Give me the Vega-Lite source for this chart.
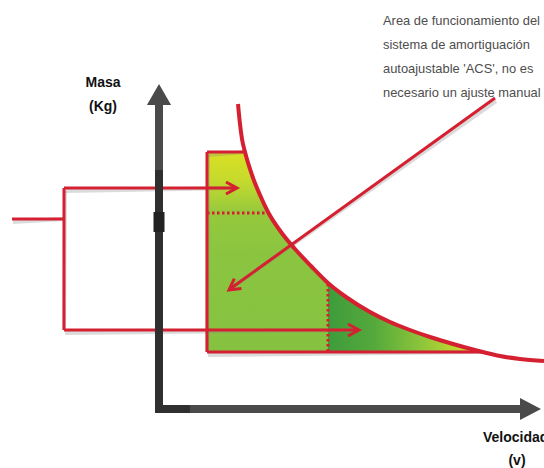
{
  "$schema": "https://vega.github.io/schema/vega-lite/v6.json",
  "width": 544,
  "height": 468,
  "padding": 0,
  "autosize": {"type": "none"},
  "background": "white",
  "config": {"view": {"stroke": null}},
  "datasets": {
    "greenArea": [
      {"v": 207, "m": 152}, {"v": 245, "m": 152}, {"v": 252, "m": 175}, {"v": 260, "m": 195},
      {"v": 268, "m": 212}, {"v": 281, "m": 232}, {"v": 295, "m": 249}, {"v": 311, "m": 266},
      {"v": 328, "m": 283}, {"v": 346, "m": 297}, {"v": 370, "m": 312}, {"v": 390, "m": 322},
      {"v": 410, "m": 330}, {"v": 430, "m": 337}, {"v": 453, "m": 344}, {"v": 475, "m": 350}, {"v": 482, "m": 352}
    ],
    "darkArea": [
      {"v": 328, "m": 283.5}, {"v": 346, "m": 297}, {"v": 370, "m": 312}, {"v": 390, "m": 322},
      {"v": 410, "m": 330}, {"v": 430, "m": 337}, {"v": 453, "m": 344}, {"v": 475, "m": 350}, {"v": 482, "m": 352}
    ],
    "curve": [
      {"v": 238, "m": 104}, {"v": 240, "m": 124}, {"v": 242, "m": 139}, {"v": 245, "m": 152},
      {"v": 252, "m": 175}, {"v": 260, "m": 195}, {"v": 268, "m": 212}, {"v": 281, "m": 232},
      {"v": 295, "m": 249}, {"v": 311, "m": 266}, {"v": 328, "m": 283}, {"v": 346, "m": 297},
      {"v": 370, "m": 312}, {"v": 390, "m": 322}, {"v": 410, "m": 330}, {"v": 430, "m": 337},
      {"v": 453, "m": 344}, {"v": 475, "m": 350}, {"v": 500, "m": 356}, {"v": 520, "m": 359},
      {"v": 544, "m": 361}
    ],
    "redLines": [
      {"v": 207, "m": 152, "v2": 207, "m2": 352},
      {"v": 207, "m": 152, "v2": 245, "m2": 152},
      {"v": 207, "m": 352, "v2": 482, "m2": 352},
      {"v": 12, "m": 219, "v2": 64, "m2": 219},
      {"v": 64, "m": 188, "v2": 64, "m2": 330},
      {"v": 64, "m": 188, "v2": 236, "m2": 188},
      {"v": 64, "m": 330, "v2": 358, "m2": 330},
      {"v": 495, "m": 98, "v2": 230, "m2": 289}
    ],
    "dotted": [
      {"v": 207, "m": 213, "v2": 268, "m2": 213},
      {"v": 328, "m": 284, "v2": 328, "m2": 352}
    ],
    "tipsRight": [{"v": 237, "m": 188}, {"v": 359, "m": 330}],
    "tipDiag": [{"v": 229, "m": 290}],
    "labels": [
      {"v": 103, "m": 83, "t": "Masa"},
      {"v": 103, "m": 107, "t": "(Kg)"},
      {"v": 517, "m": 461, "t": "(v)"}
    ],
    "vel": [{"v": 483, "m": 438, "t": "Velocidad"}],
    "note": [
      {"v": 383, "m": 21, "t": "Area de funcionamiento del"},
      {"v": 383, "m": 45, "t": "sistema de amortiguación"},
      {"v": 383, "m": 69, "t": "autoajustable 'ACS', no es"},
      {"v": 383, "m": 93, "t": "necesario un ajuste manual"}
    ]
  },
  "encoding": {
    "x": {"field": "v", "type": "quantitative", "scale": {"domain": [0, 544], "nice": false, "zero": false}, "axis": null},
    "y": {"field": "m", "type": "quantitative", "scale": {"domain": [0, 468], "nice": false, "zero": false, "reverse": true}, "axis": null}
  },
  "layer": [
    {
      "data": {"name": "greenArea"},
      "mark": {
        "type": "area", "interpolate": "monotone",
        "color": {"gradient": "linear", "x1": 0, "y1": 0, "x2": 0, "y2": 1,
          "stops": [
            {"offset": 0, "color": "#d9e024"},
            {"offset": 0.14, "color": "#c6da2c"},
            {"offset": 0.3, "color": "#96c93c"},
            {"offset": 0.5, "color": "#8bc540"},
            {"offset": 1, "color": "#86c241"}
          ]}
      },
      "encoding": {"y2": {"datum": 352}}
    },
    {
      "data": {"name": "darkArea"},
      "mark": {
        "type": "area", "interpolate": "monotone",
        "color": {"gradient": "linear", "x1": 0, "y1": 0, "x2": 1, "y2": 0,
          "stops": [
            {"offset": 0, "color": "#3e9c3b"},
            {"offset": 0.3, "color": "#55a93c"},
            {"offset": 0.6, "color": "#8cc43a"},
            {"offset": 0.85, "color": "#c2d82e"},
            {"offset": 1, "color": "#d6de28"}
          ]}
      },
      "encoding": {"y2": {"datum": 352}}
    },
    {
      "data": {"name": "redLines"},
      "mark": {"type": "rule", "color": "#888888", "opacity": 0.3, "strokeWidth": 4, "yOffset": 3, "xOffset": 1},
      "encoding": {"x2": {"field": "v2"}, "y2": {"field": "m2"}}
    },
    {
      "data": {"name": "redLines"},
      "mark": {"type": "rule", "color": "#d42030", "strokeWidth": 3},
      "encoding": {"x2": {"field": "v2"}, "y2": {"field": "m2"}}
    },
    {
      "data": {"name": "dotted"},
      "mark": {"type": "rule", "color": "#d42030", "strokeWidth": 3, "strokeDash": [2.5, 2.5]},
      "encoding": {"x2": {"field": "v2"}, "y2": {"field": "m2"}}
    },
    {
      "data": {"name": "curve"},
      "mark": {"type": "line", "interpolate": "monotone", "color": "#d42030", "strokeWidth": 4},
      "encoding": {}
    },
    {
      "data": {"name": "tipsRight"},
      "mark": {"type": "point", "shape": "M-1,-0.55L0,0L-1,0.55", "filled": false, "size": 484, "color": "#d42030", "strokeWidth": 3, "opacity": 1},
      "encoding": {}
    },
    {
      "data": {"name": "tipDiag"},
      "mark": {"type": "point", "shape": "M-1,-0.55L0,0L-1,0.55", "filled": false, "size": 484, "angle": 144, "color": "#d42030", "strokeWidth": 3, "opacity": 1},
      "encoding": {}
    },
    {
      "data": {"values": [{"v": 159, "m": 104, "m2": 172}]},
      "mark": {"type": "rule", "color": "#4a4a4a", "strokeWidth": 8},
      "encoding": {"y2": {"field": "m2"}}
    },
    {
      "data": {"values": [{"v": 159, "m": 170, "m2": 413}]},
      "mark": {"type": "rule", "color": "#2f2f2f", "strokeWidth": 8},
      "encoding": {"y2": {"field": "m2"}}
    },
    {
      "data": {"values": [{"v": 159, "m": 212, "m2": 232}]},
      "mark": {"type": "rule", "color": "#222222", "strokeWidth": 11},
      "encoding": {"y2": {"field": "m2"}}
    },
    {
      "data": {"values": [{"v": 188, "m": 409, "v2": 522}]},
      "mark": {"type": "rule", "color": "#4a4a4a", "strokeWidth": 8},
      "encoding": {"x2": {"field": "v2"}}
    },
    {
      "data": {"values": [{"v": 155, "m": 409, "v2": 190}]},
      "mark": {"type": "rule", "color": "#2f2f2f", "strokeWidth": 8},
      "encoding": {"x2": {"field": "v2"}}
    },
    {
      "data": {"values": [{"v": 159, "m": 94.5}]},
      "mark": {"type": "point", "shape": "M0,-1L1.15,1L-1.15,1Z", "filled": true, "size": 441, "color": "#4a4a4a", "opacity": 1},
      "encoding": {}
    },
    {
      "data": {"values": [{"v": 530.5, "m": 409}]},
      "mark": {"type": "point", "shape": "M1,0L-1,-1.05L-1,1.05Z", "filled": true, "size": 441, "color": "#4a4a4a", "opacity": 1},
      "encoding": {}
    },
    {
      "data": {"name": "labels"},
      "mark": {"type": "text", "align": "center", "baseline": "middle", "font": "Liberation Sans", "fontWeight": "bold", "fontSize": 14, "color": "#111111"},
      "encoding": {"text": {"field": "t"}}
    },
    {
      "data": {"name": "vel"},
      "mark": {"type": "text", "align": "left", "baseline": "middle", "font": "Liberation Sans", "fontWeight": "bold", "fontSize": 14, "color": "#111111"},
      "encoding": {"text": {"field": "t"}}
    },
    {
      "data": {"name": "note"},
      "mark": {"type": "text", "align": "left", "baseline": "middle", "font": "Liberation Sans", "fontSize": 12.9, "color": "#4d4d4d"},
      "encoding": {"text": {"field": "t"}}
    }
  ]
}
